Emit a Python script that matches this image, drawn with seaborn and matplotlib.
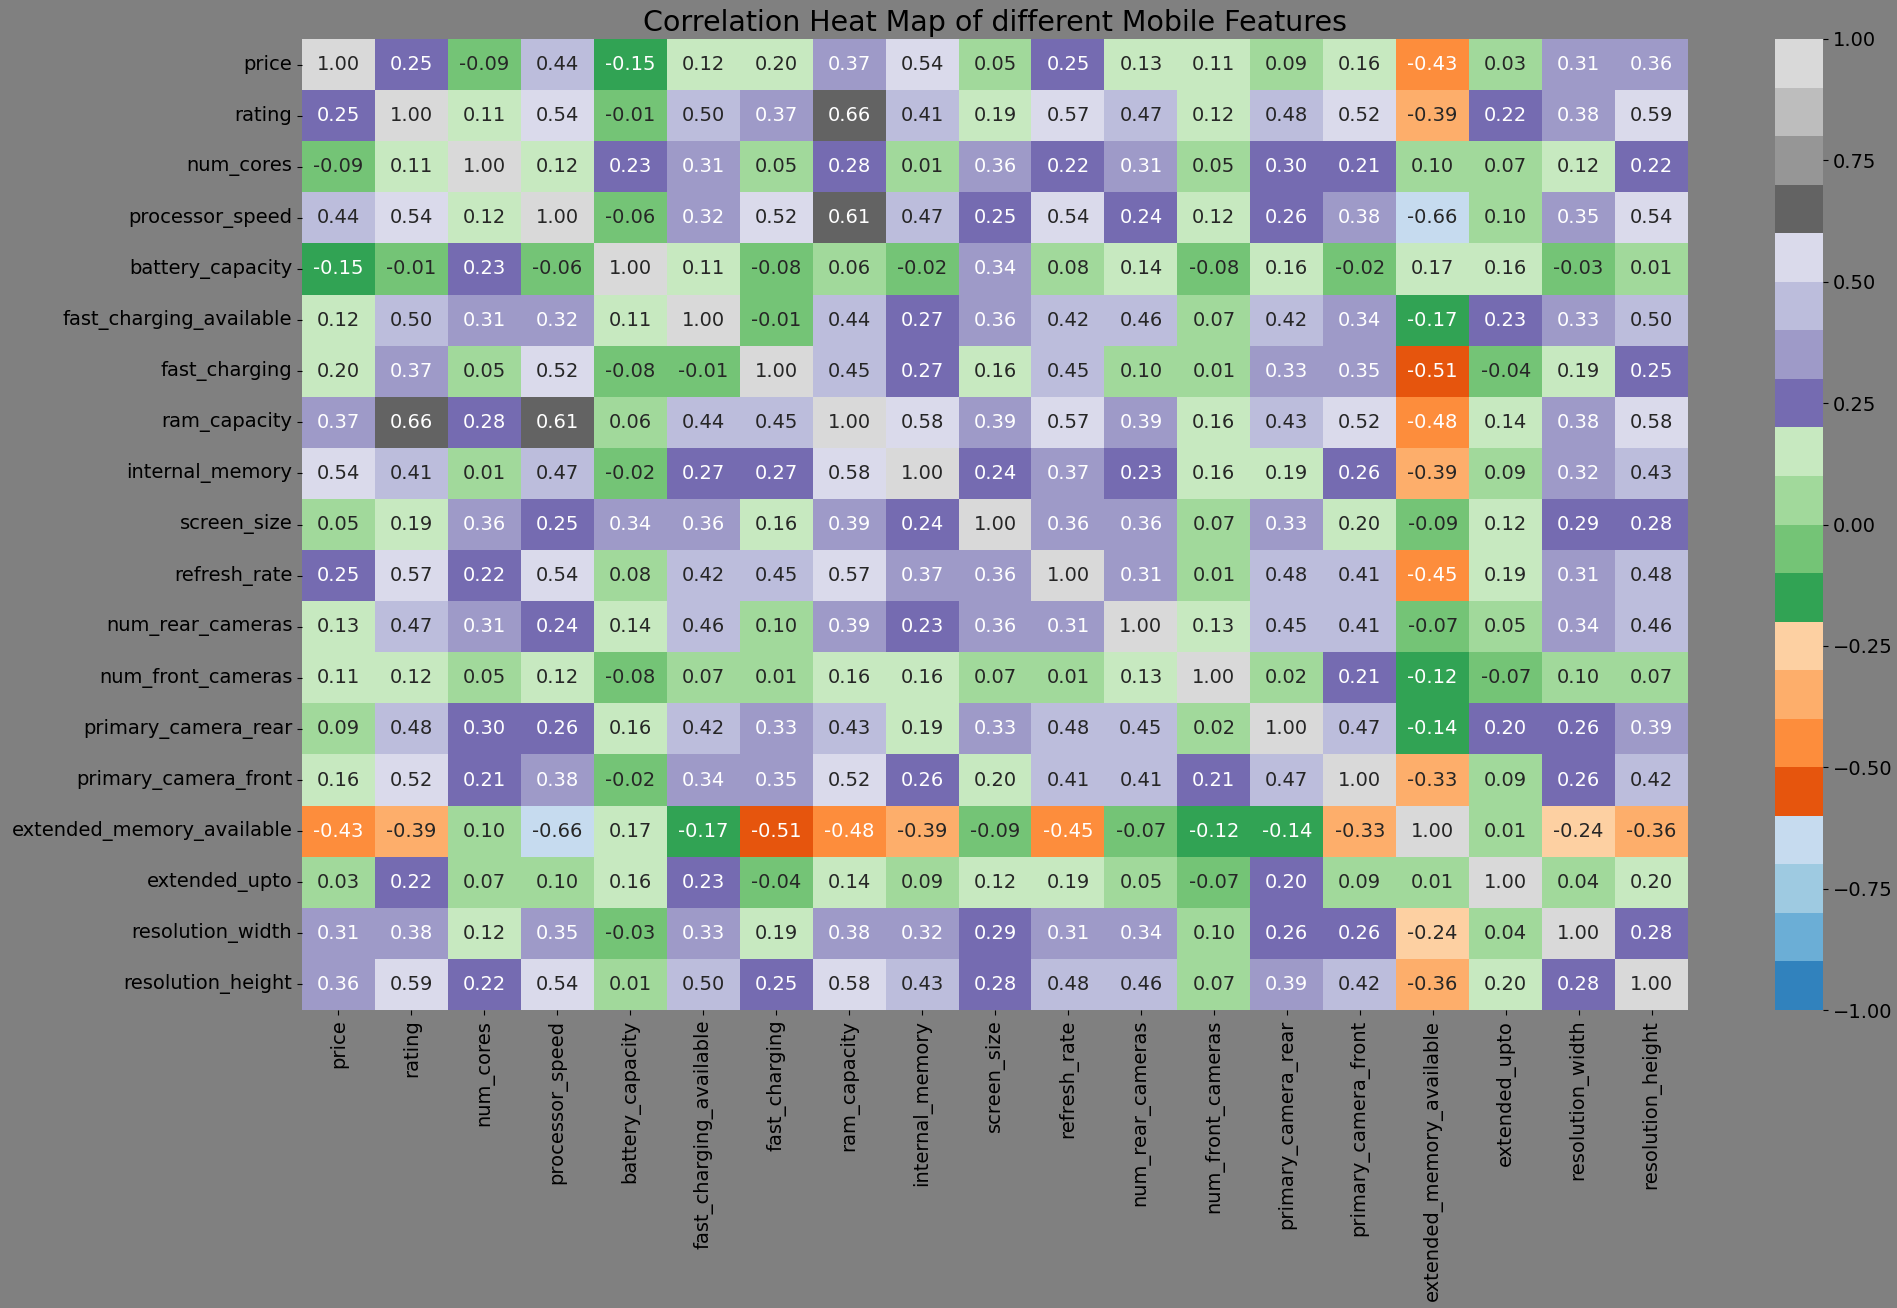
import numpy as np
import pandas as pd
import matplotlib
import matplotlib.pyplot as plt
import seaborn as sns

matplotlib.use('Agg')

# Feature names (row/column order of the matrix)
features = [
    'price', 'rating', 'num_cores', 'processor_speed', 'battery_capacity',
    'fast_charging_available', 'fast_charging', 'ram_capacity', 'internal_memory',
    'screen_size', 'refresh_rate', 'num_rear_cameras', 'num_front_cameras',
    'primary_camera_rear', 'primary_camera_front', 'extended_memory_available',
    'extended_upto', 'resolution_width', 'resolution_height',
]

# Correlation values, one list per row
price = [1.00, 0.25, -0.09, 0.44, -0.15, 0.12, 0.199, 0.37, 0.54, 0.05, 0.25, 0.13, 0.11, 0.09, 0.16, -0.43, 0.03, 0.31, 0.36]
rating = [0.25, 1.00, 0.11, 0.54, -0.01, 0.499, 0.37, 0.66, 0.41, 0.19, 0.57, 0.47, 0.12, 0.48, 0.52, -0.39, 0.22, 0.38, 0.59]
num_cores = [-0.09, 0.11, 1.00, 0.12, 0.23, 0.31, 0.05, 0.28, 0.01, 0.36, 0.22, 0.31, 0.05, 0.299, 0.21, 0.099, 0.07, 0.12, 0.22]
processor_speed = [0.44, 0.54, 0.12, 1.00, -0.06, 0.32, 0.52, 0.61, 0.47, 0.25, 0.54, 0.24, 0.12, 0.26, 0.38, -0.66, 0.099, 0.35, 0.54]
battery_capacity = [-0.15, -0.01, 0.23, -0.06, 1.00, 0.11, -0.08, 0.06, -0.02, 0.34, 0.08, 0.14, -0.08, 0.16, -0.02, 0.17, 0.16, -0.03, 0.01]
fast_charging_available = [0.12, 0.499, 0.31, 0.32, 0.11, 1.00, -0.01, 0.44, 0.27, 0.36, 0.42, 0.46, 0.07, 0.42, 0.34, -0.17, 0.23, 0.33, 0.499]
fast_charging = [0.199, 0.37, 0.05, 0.52, -0.08, -0.01, 1.00, 0.45, 0.27, 0.16, 0.45, 0.099, 0.01, 0.33, 0.35, -0.51, -0.04, 0.19, 0.25]
ram_capacity = [0.37, 0.66, 0.28, 0.61, 0.06, 0.44, 0.45, 1.00, 0.58, 0.39, 0.57, 0.39, 0.16, 0.43, 0.52, -0.48, 0.14, 0.38, 0.58]
internal_memory = [0.54, 0.41, 0.01, 0.47, -0.02, 0.27, 0.27, 0.58, 1.00, 0.24, 0.37, 0.23, 0.16, 0.19, 0.26, -0.39, 0.09, 0.32, 0.43]
screen_size = [0.05, 0.19, 0.36, 0.25, 0.34, 0.36, 0.16, 0.39, 0.24, 1.00, 0.36, 0.36, 0.07, 0.33, 0.199, -0.09, 0.12, 0.29, 0.28]
refresh_rate = [0.25, 0.57, 0.22, 0.54, 0.08, 0.42, 0.45, 0.57, 0.37, 0.36, 1.00, 0.31, 0.01, 0.48, 0.41, -0.45, 0.19, 0.31, 0.48]
num_rear_cameras = [0.13, 0.47, 0.31, 0.24, 0.14, 0.46, 0.099, 0.39, 0.23, 0.36, 0.31, 1.00, 0.13, 0.45, 0.41, -0.07, 0.05, 0.34, 0.46]
num_front_cameras = [0.11, 0.12, 0.05, 0.12, -0.08, 0.07, 0.01, 0.16, 0.16, 0.07, 0.01, 0.13, 1.00, 0.02, 0.21, -0.12, -0.07, 0.099, 0.07]
primary_camera_rear = [0.09, 0.48, 0.299, 0.26, 0.16, 0.42, 0.33, 0.43, 0.19, 0.33, 0.48, 0.45, 0.02, 1.00, 0.47, -0.14, 0.201, 0.26, 0.39]
primary_camera_front = [0.16, 0.52, 0.21, 0.38, -0.02, 0.34, 0.35, 0.52, 0.26, 0.199, 0.41, 0.41, 0.21, 0.47, 1.00, -0.33, 0.09, 0.26, 0.42]
extended_memory_available = [-0.43, -0.39, 0.099, -0.66, 0.17, -0.17, -0.51, -0.48, -0.39, -0.09, -0.45, -0.07, -0.12, -0.14, -0.33, 1.00, 0.01, -0.24, -0.36]
extended_upto = [0.03, 0.22, 0.07, 0.099, 0.16, 0.23, -0.04, 0.14, 0.09, 0.12, 0.19, 0.05, -0.07, 0.201, 0.09, 0.01, 1.00, 0.04, 0.199]
resolution_width = [0.31, 0.38, 0.12, 0.35, -0.03, 0.33, 0.19, 0.38, 0.32, 0.29, 0.31, 0.34, 0.099, 0.26, 0.26, -0.24, 0.04, 1.00, 0.28]
resolution_height = [0.36, 0.59, 0.22, 0.54, 0.01, 0.499, 0.25, 0.58, 0.43, 0.28, 0.48, 0.46, 0.07, 0.39, 0.42, -0.36, 0.199, 0.28, 1.00]

corr = pd.DataFrame(
    [price, rating, num_cores, processor_speed, battery_capacity,
     fast_charging_available, fast_charging, ram_capacity, internal_memory,
     screen_size, refresh_rate, num_rear_cameras, num_front_cameras,
     primary_camera_rear, primary_camera_front, extended_memory_available,
     extended_upto, resolution_width, resolution_height],
    index=features, columns=features,
)

fig = plt.figure(figsize=(18.97, 13.08), dpi=100, facecolor='gray')
ax = fig.add_axes([302 / 1897, 1 - 1010 / 1308, 1386 / 1897, 971 / 1308])
cax = fig.add_axes([1775 / 1897, 1 - 1010 / 1308, 48 / 1897, 971 / 1308])

sns.heatmap(
    corr, annot=True, fmt='.2f', cmap='tab20c', vmin=-1, vmax=1,
    ax=ax, cbar_ax=cax, annot_kws={'size': 14},
)
ax.set_facecolor('gray')
ax.set_title('Correlation Heat Map of different Mobile Features', fontsize=20.5)
ax.tick_params(axis='both', labelsize=14)
plt.setp(ax.get_xticklabels(), rotation=90)
plt.setp(ax.get_yticklabels(), rotation=0)
cax.tick_params(labelsize=14)

plt.savefig('out.png', dpi=100, facecolor='gray')
print("Chart saved as 'out.png'")
